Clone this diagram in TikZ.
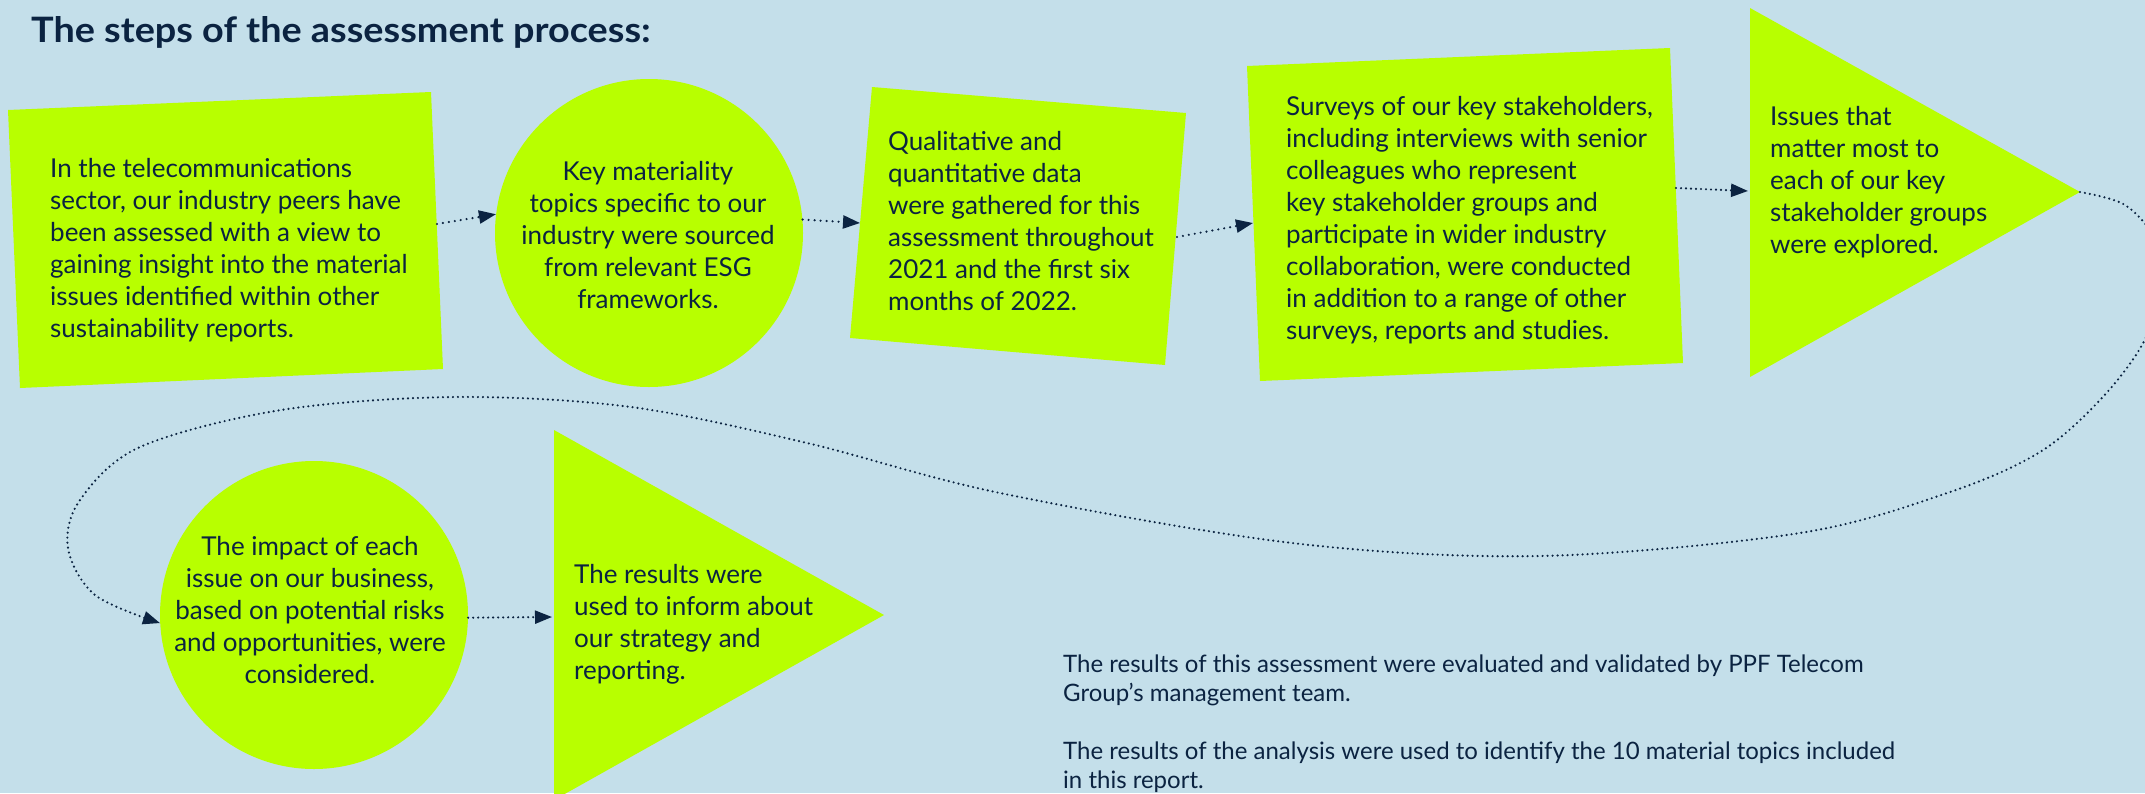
\documentclass[tikz,border=0pt]{standalone}
\usepackage{fontspec}
\setmainfont{Lato}
\newfontfamily\titlefont{Lato}[FakeStretch=1.08]
\usetikzlibrary{arrows.meta}
\definecolor{bg}{HTML}{C4DFEA}
\definecolor{lime}{HTML}{B8FF00}
\definecolor{navy}{HTML}{0B2341}
\newcommand\txtblock[2]{\begin{tabular}[t]{@{}#1@{}}#2\end{tabular}}
\begin{document}
\begin{tikzpicture}[x=1pt,y=-1pt,
  body/.style={text=navy, inner sep=0pt, font=\fontsize{26}{32}\selectfont},
  note/.style={text=navy, inner sep=0pt, font=\fontsize{24}{29}\selectfont},
  limeshape/.style={fill=lime},
  limecircle/.style={circle, fill=lime, minimum size=308pt, inner sep=0pt},
  flow/.style={draw=navy, line width=2.4pt, dash pattern=on 0pt off 6pt, line cap=round,
    -{Triangle[length=17pt,width=13pt,fill=navy]}},
]
\useasboundingbox (0,0) rectangle (2145,793);
\fill[bg] (0,0) rectangle (2145,793);
\clip (0,0) rectangle (2145,793);

% title
\node[anchor=base west, inner sep=0pt, text=navy, font=\titlefont\fontsize{35}{40}\selectfont\bfseries] (title) at (31,42) {The steps of the assessment process:};

% shapes
\fill[limeshape] (8,110) -- (431,92) -- (443,369) -- (20,388) -- cycle;
\node[limecircle] (c2) at (649,233) {};
\fill[limeshape] (872,87) -- (1186,113) -- (1165,365) -- (850,338) -- cycle;
\fill[limeshape] (1247,66) -- (1670,48) -- (1683,363) -- (1260,381) -- cycle;
\fill[limeshape] (1750,8) -- (2080,192) -- (1750,377) -- cycle;
\node[limecircle] (c6) at (314,615) {};
\fill[limeshape] (554,430) -- (884,615) -- (554,800) -- cycle;

% connector end points
\coordinate (b1out) at (437,224);
\coordinate (b3in) at (860,223);
\coordinate (b3out) at (1177,237);
\coordinate (b4in) at (1253,223);
\coordinate (b4out) at (1676,188);
\coordinate (t5in) at (1748,191);
\coordinate (t5tip) at (2080,192);
\coordinate (t7in) at (552,617);

% texts
\node[body, anchor=base west] (t1) at (50,177) {\txtblock{l}{In the telecommunications\\sector, our industry peers have\\been assessed with a view to\\gaining insight into the material\\issues identified within other\\sustainability reports.}};
\node[body, anchor=base] (t2) at (648,180) {\txtblock{c}{Key materiality\\topics specific to our\\industry were sourced\\from relevant ESG\\frameworks.}};
\node[body, anchor=base west] (t3) at (888,150) {\txtblock{l}{Qualitative and\\quantitative data\\were gathered for this\\assessment throughout\\2021 and the first six\\months of 2022.}};
\node[body, anchor=base west] (t4) at (1286,115) {\txtblock{l}{Surveys of our key stakeholders,\\including interviews with senior\\colleagues who represent\\key stakeholder groups and\\participate in wider industry\\collaboration, were conducted\\in addition to a range of other\\surveys, reports and studies.}};
\node[body, anchor=base west] (t5) at (1770,125) {\txtblock{l}{Issues that\\matter most to\\each of our key\\stakeholder groups\\were explored.}};
\node[body, anchor=base] (t6) at (310,555) {\txtblock{c}{The impact of each\\issue on our business,\\based on potential risks\\and opportunities, were\\considered.}};
\node[body, anchor=base west] (t7) at (574,583) {\txtblock{l}{The results were\\used to inform about\\our strategy and\\reporting.}};
\node[note, anchor=base west] (n1) at (1063,672) {\txtblock{l}{The results of this assessment were evaluated and validated by PPF Telecom\\Group’s management team.\\ \\The results of the analysis were used to identify the 10 material topics included\\in this report.}};

% connectors
\draw[flow] (b1out) -- (c2.173);
\draw[flow] (c2.5) -- (b3in);
\draw[flow] (b3out) -- (b4in);
\draw[flow, dash pattern=on 0pt off 5pt] (b4out) -- (t5in);
\draw[flow, dash pattern=on 0pt off 5pt] plot[smooth, tension=0.55] coordinates {(t5tip) (2125,205) (2155,240) (2161,290) (2142,345) (2100,400) (2040,452) (1950,492) (1800,533) (1540,556) (1292,543) (1000,493) (807,443) (631,407) (456,397) (281,410) (140,447) (80,500) (68,548) (95,595) (c6.183)};
\draw[flow, dash pattern=on 0pt off 5pt] (c6.-1) -- (t7in);
\end{tikzpicture}
\end{document}
